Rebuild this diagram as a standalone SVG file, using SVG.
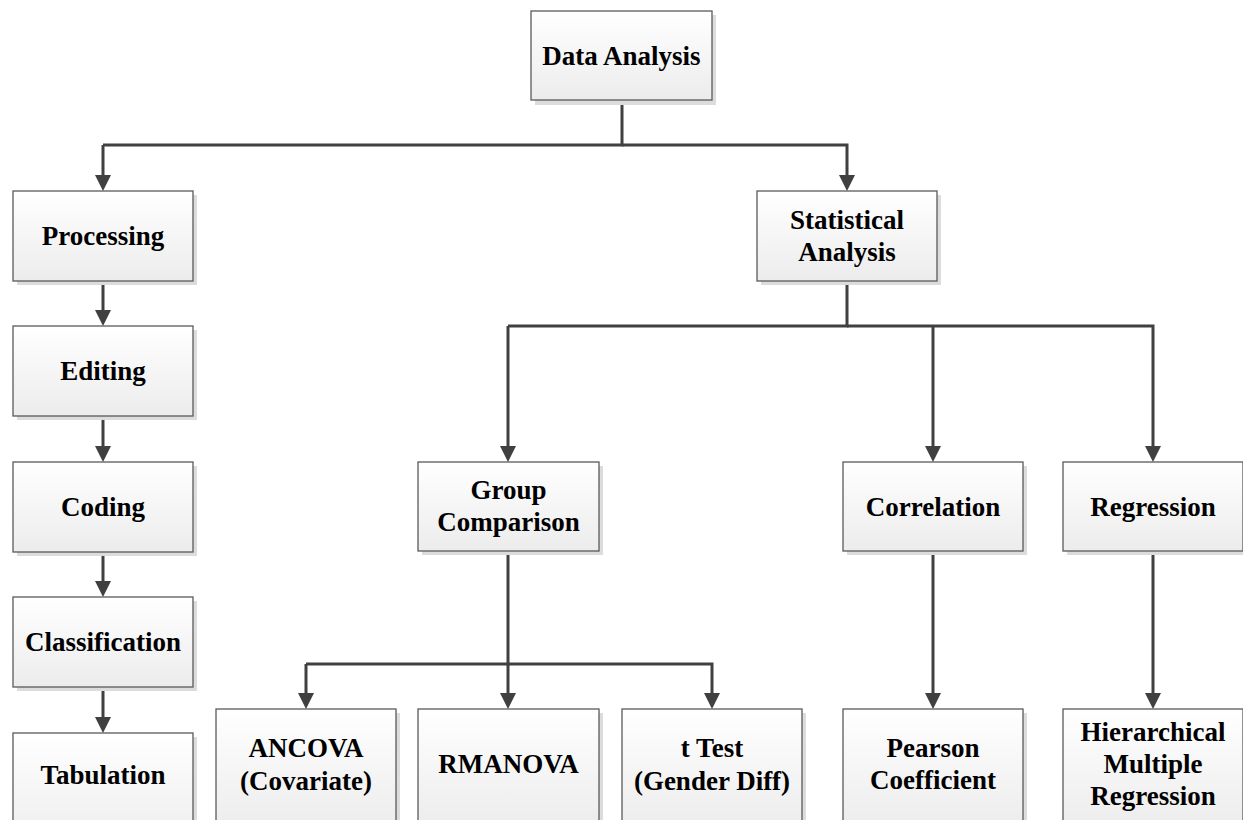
<svg xmlns="http://www.w3.org/2000/svg" width="1243" height="820" viewBox="0 0 1243 820">
<defs>
<linearGradient id="fillg" x1="0" y1="0" x2="0" y2="1">
<stop offset="0" stop-color="#ffffff"/>
<stop offset="1" stop-color="#ececec"/>
</linearGradient>
<marker id="arr" viewBox="0 0 16 16" refX="6" refY="8" markerWidth="16" markerHeight="16" orient="auto" markerUnits="userSpaceOnUse">
<path d="M0,0 L16,8 L0,16 z" fill="#404040"/>
</marker>
</defs>
<style>
.sh{fill:#dcdcdc;}
.bx{fill:url(#fillg);stroke:#5a5a5a;stroke-width:1.3;}
.t{font-family:"Liberation Serif","Times New Roman",serif;font-weight:bold;font-size:27px;fill:#000;text-anchor:middle;}
.c{fill:none;stroke:#404040;stroke-width:3;}
.a{marker-end:url(#arr);}
</style>
<rect width="1243" height="820" fill="#fff"/>
<g id="connectors">
<path class="c" d="M622,100 V145 H103"/>
<path class="c a" d="M103,145 V181"/>
<path class="c a" d="M622,145 H847 V181"/>
<path class="c a" d="M103,281 V316"/>
<path class="c a" d="M103,416 V452"/>
<path class="c a" d="M103,552 V587"/>
<path class="c a" d="M103,687 V723"/>
<path class="c" d="M847,281 V326 H508"/>
<path class="c a" d="M508,326 V452"/>
<path class="c a" d="M847,326 H1153 V452"/>
<path class="c a" d="M933,326 V452"/>
<path class="c" d="M508,551 V664 H306"/>
<path class="c a" d="M306,664 V699"/>
<path class="c a" d="M508,664 V699"/>
<path class="c a" d="M508,664 H712 V699"/>
<path class="c a" d="M933,551 V699"/>
<path class="c a" d="M1153,551 V699"/>
</g>
<g id="data-analysis">
<rect class="sh" x="535" y="15" width="181" height="90"/>
<rect class="bx" x="531" y="11" width="181" height="89"/>
<text class="t" x="621.5" y="65">Data Analysis</text>
</g>
<g id="processing">
<rect class="sh" x="17" y="195" width="180" height="90"/>
<rect class="bx" x="13" y="191" width="180" height="90"/>
<text class="t" x="103" y="245">Processing</text>
</g>
<g id="editing">
<rect class="sh" x="17" y="330" width="180" height="90"/>
<rect class="bx" x="13" y="326" width="180" height="90"/>
<text class="t" x="103" y="380">Editing</text>
</g>
<g id="coding">
<rect class="sh" x="17" y="466" width="180" height="90"/>
<rect class="bx" x="13" y="462" width="180" height="90"/>
<text class="t" x="103" y="516">Coding</text>
</g>
<g id="classification">
<rect class="sh" x="17" y="601" width="180" height="90"/>
<rect class="bx" x="13" y="597" width="180" height="90"/>
<text class="t" x="103" y="651">Classification</text>
</g>
<g id="tabulation">
<rect class="sh" x="17" y="737" width="180" height="120"/>
<rect class="bx" x="13" y="733" width="180" height="120"/>
<text class="t" x="103" y="784">Tabulation</text>
</g>
<g id="statistical-analysis">
<rect class="sh" x="761" y="195" width="180" height="90"/>
<rect class="bx" x="757" y="191" width="180" height="90"/>
<text class="t" x="847" y="229">Statistical</text>
<text class="t" x="847" y="261">Analysis</text>
</g>
<g id="group-comparison">
<rect class="sh" x="422" y="466" width="181" height="89"/>
<rect class="bx" x="418" y="462" width="181" height="89"/>
<text class="t" x="508.5" y="499">Group</text>
<text class="t" x="508.5" y="531">Comparison</text>
</g>
<g id="correlation">
<rect class="sh" x="847" y="466" width="180" height="89"/>
<rect class="bx" x="843" y="462" width="180" height="89"/>
<text class="t" x="933" y="516">Correlation</text>
</g>
<g id="regression">
<rect class="sh" x="1067" y="466" width="180" height="89"/>
<rect class="bx" x="1063" y="462" width="180" height="89"/>
<text class="t" x="1153" y="516">Regression</text>
</g>
<g id="ancova">
<rect class="sh" x="220" y="713" width="180" height="120"/>
<rect class="bx" x="216" y="709" width="180" height="120"/>
<text class="t" x="306" y="757">ANCOVA</text>
<text class="t" x="306" y="790">(Covariate)</text>
</g>
<g id="rmanova">
<rect class="sh" x="422" y="713" width="181" height="120"/>
<rect class="bx" x="418" y="709" width="181" height="120"/>
<text class="t" x="508.5" y="773">RMANOVA</text>
</g>
<g id="t-test">
<rect class="sh" x="626" y="713" width="180" height="120"/>
<rect class="bx" x="622" y="709" width="180" height="120"/>
<text class="t" x="712" y="757">t Test</text>
<text class="t" x="712" y="790">(Gender Diff)</text>
</g>
<g id="pearson">
<rect class="sh" x="847" y="713" width="180" height="120"/>
<rect class="bx" x="843" y="709" width="180" height="120"/>
<text class="t" x="933" y="757">Pearson</text>
<text class="t" x="933" y="789">Coefficient</text>
</g>
<g id="hierarchical">
<rect class="sh" x="1067" y="713" width="180" height="120"/>
<rect class="bx" x="1063" y="709" width="180" height="120"/>
<text class="t" x="1153" y="741">Hierarchical</text>
<text class="t" x="1153" y="773">Multiple</text>
<text class="t" x="1153" y="805">Regression</text>
</g>
</svg>
